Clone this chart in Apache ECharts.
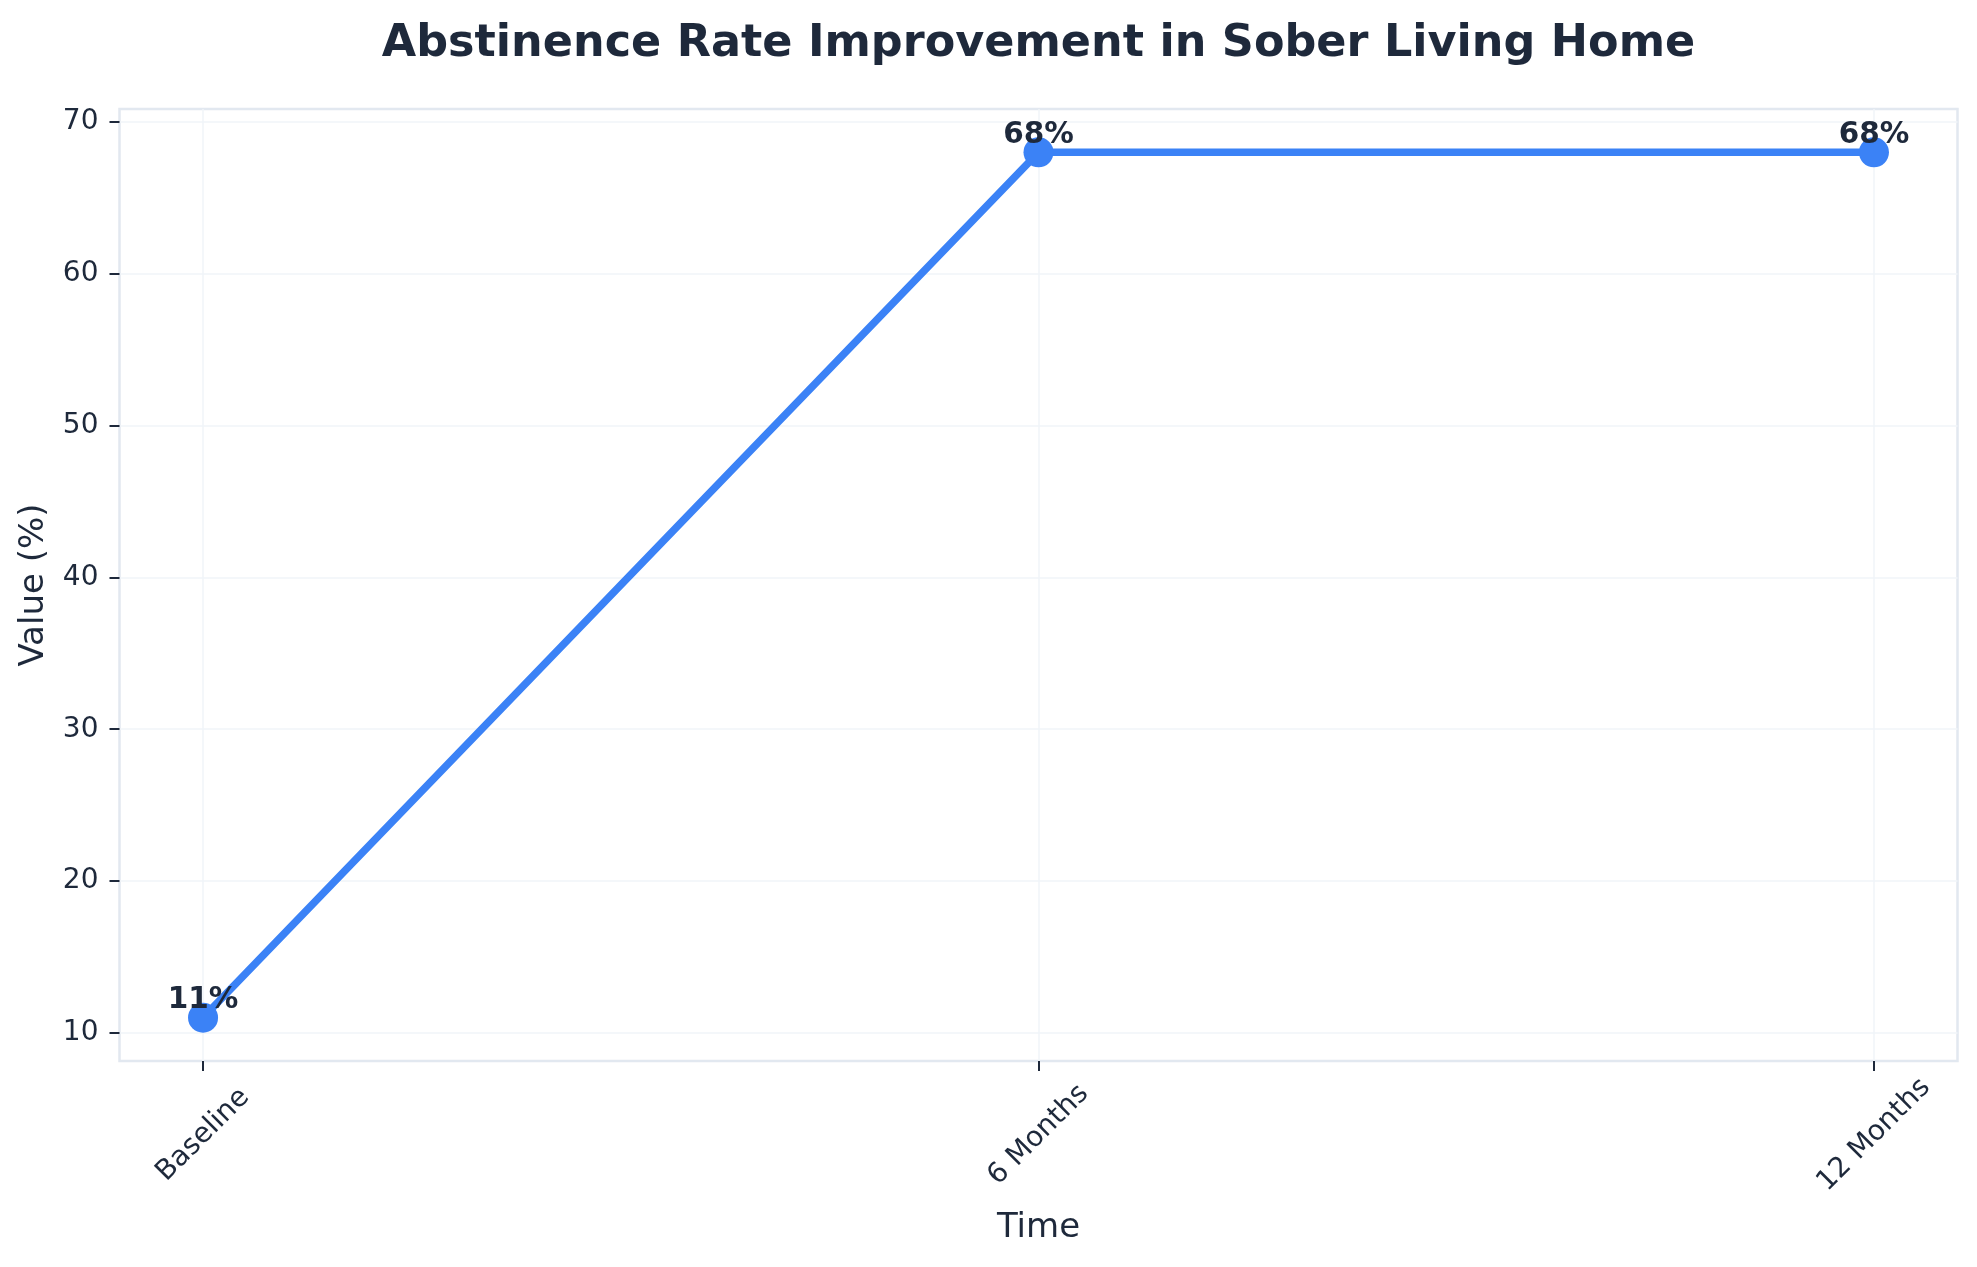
<!DOCTYPE html>
<html>
<head>
<meta charset="utf-8">
<script src="https://cdn.jsdelivr.net/npm/echarts@6/dist/echarts.min.js"></script>
<style>
html,body{margin:0;padding:0;background:#fff;}
#chart{width:1977px;height:1267px;}
</style>
</head>
<body>
<div id="chart"></div>
<script>
const categories = ['Baseline', '6 Months', '12 Months'];
const values = [11, 68, 68];
const yTicks = [10, 20, 30, 40, 50, 60, 70];
const xTicks = [0, 1, 2];

const TEXT = '#1e293b';
const FONT = 'DejaVu Sans';

const chart = echarts.init(document.getElementById('chart'), null, {renderer: 'canvas'});
chart.setOption({
  backgroundColor: '#ffffff',
  animation: false,
  title: {
    text: 'Abstinence Rate Improvement in Sober Living Home',
    left: 1033.5,
    top: 17,
    textAlign: 'center',
    textStyle: {fontFamily: FONT, fontSize: 44.5, fontWeight: 'bold', color: TEXT}
  },
  grid: {
    left: 119.5, right: 19.5, top: 109, bottom: 206,
    show: true, borderColor: '#e2e8f0', borderWidth: 2.5,
    containLabel: false, outerBoundsMode: 'none'
  },
  xAxis: {
    type: 'value',
    min: -0.1, max: 2.1,
    name: 'Time',
    nameLocation: 'middle',
    nameGap: 167,
    nameMoveOverlap: false,
    nameTextStyle: {fontFamily: FONT, fontSize: 34, color: TEXT, align: 'center', verticalAlign: 'middle'},
    axisLine: {show: false, onZero: false},
    axisTick: {show: true, customValues: xTicks, length: 10, lineStyle: {color: TEXT, width: 2}},
    axisLabel: {
      customValues: xTicks,
      rotate: 45, align: 'center', verticalAlign: 'middle', margin: 74,
      fontFamily: FONT, fontSize: 28, color: TEXT,
      formatter: v => categories[Math.round(v)] || ''
    },
    splitLine: {show: true, lineStyle: {color: '#f1f5f9', width: 1.5}}
  },
  yAxis: {
    type: 'value',
    min: 8.15, max: 70.85,
    name: 'Value (%)',
    nameLocation: 'middle',
    nameGap: 85,
    nameRotate: 90,
    nameMoveOverlap: false,
    nameTextStyle: {fontFamily: FONT, fontSize: 34, color: TEXT, align: 'center', verticalAlign: 'middle'},
    axisLine: {show: false, onZero: false},
    axisTick: {show: true, customValues: yTicks, length: 10, lineStyle: {color: TEXT, width: 2}},
    axisLabel: {
      customValues: yTicks, margin: 21,
      fontFamily: FONT, fontSize: 28, color: TEXT
    },
    splitLine: {show: true, lineStyle: {color: '#f1f5f9', width: 1.5}}
  },
  series: [{
    type: 'line',
    data: values.map((v, i) => [i, v]),
    symbol: 'circle',
    symbolSize: 30,
    itemStyle: {color: '#3b82f6'},
    lineStyle: {color: '#3b82f6', width: 7.5},
    label: {
      show: true,
      position: 'inside',
      offset: [0, -17],
      formatter: p => p.value[1] + '%',
      fontFamily: FONT, fontSize: 29.5, fontWeight: 'bold', color: TEXT
    },
    z: 3
  }]
});
</script>
</body>
</html>
